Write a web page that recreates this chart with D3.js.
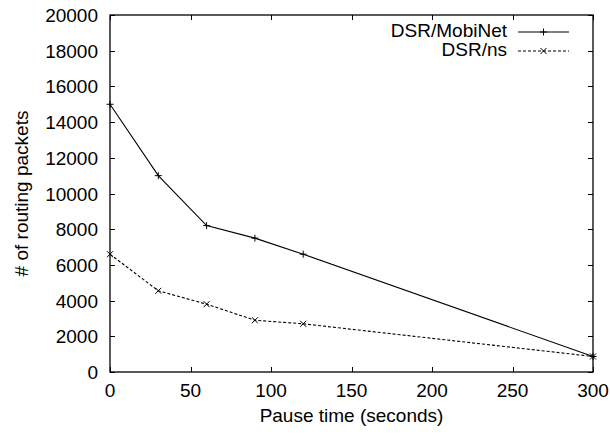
<!DOCTYPE html>
<html>
<head>
<meta charset="utf-8">
<script src="https://cdn.jsdelivr.net/npm/d3@7"></script>
<style>
  body { margin: 0; background: #fff; }
  text { font-family: "Liberation Sans", Arial, sans-serif; fill: #000; }
</style>
</head>
<body>
<div id="viz"></div>
<script>
const w = 610, h = 437;

// pause times (seconds)
const pauseTimes = [0, 30, 60, 90, 120, 300];
// routing packets
const mobinet = [15000, 11000, 8200, 7500, 6600, 870];
const ns = [6600, 4550, 3800, 2900, 2700, 870];

const seriesNames = ["DSR/MobiNet", "DSR/ns"];
const xTicks = [0, 50, 100, 150, 200, 250, 300];
const yTicks = [0, 2000, 4000, 6000, 8000, 10000, 12000, 14000, 16000, 18000, 20000];

const svg = d3.select("#viz")
  .append("svg")
  .attr("width", w)
  .attr("height", h);

const pLeft = 110, pRight = 593, pTop = 15, pBottom = 372;
const fs = 19;

const xScale = d3.scaleLinear().domain([0, 300]).range([pLeft, pRight]);
const yScale = d3.scaleLinear().domain([0, 20000]).range([pBottom, pTop]);

const tick = 5;
const ax = svg.append("g").attr("stroke", "#000").attr("stroke-width", 1);

// ticks, mirrored on all four sides (pointing inward)
xTicks.forEach(t => {
  const x = Math.round(xScale(t)) + 0.5;
  ax.append("line").attr("x1", x).attr("x2", x).attr("y1", pBottom).attr("y2", pBottom - tick);
  ax.append("line").attr("x1", x).attr("x2", x).attr("y1", pTop).attr("y2", pTop + tick);
});
yTicks.forEach(t => {
  const y = Math.round(yScale(t)) + 0.5;
  ax.append("line").attr("x1", pLeft).attr("x2", pLeft + tick).attr("y1", y).attr("y2", y);
  ax.append("line").attr("x1", pRight).attr("x2", pRight - tick).attr("y1", y).attr("y2", y);
});

// frame
svg.append("rect")
  .attr("x", pLeft).attr("y", pTop)
  .attr("width", pRight - pLeft).attr("height", pBottom - pTop)
  .attr("fill", "none").attr("stroke", "#000").attr("stroke-width", 1.3);

// tick labels
svg.selectAll(".xl").data(xTicks).enter().append("text")
  .attr("x", d => xScale(d)).attr("y", pBottom + 25)
  .attr("text-anchor", "middle").attr("font-size", fs)
  .text(d => d);
svg.selectAll(".yl").data(yTicks).enter().append("text")
  .attr("x", pLeft - 12).attr("y", d => yScale(d) + 7)
  .attr("text-anchor", "end").attr("font-size", fs)
  .text(d => d);

// axis titles
svg.append("text")
  .attr("x", xScale(150)).attr("y", 422)
  .attr("text-anchor", "middle").attr("font-size", fs)
  .text("Pause time (seconds)");
svg.append("text")
  .attr("transform", "translate(28," + yScale(10000) + ") rotate(-90)")
  .attr("text-anchor", "middle").attr("font-size", fs)
  .text("# of routing packets");

const line = d3.line().x(d => xScale(d[0])).y(d => yScale(d[1]));

const plus = (g, x, y) => {
  g.append("path").attr("d", `M${x - 3.5},${y}H${x + 3.5}M${x},${y - 3.5}V${y + 3.5}`)
    .attr("stroke", "#000").attr("stroke-width", 1);
};
const cross = (g, x, y) => {
  g.append("path").attr("d", `M${x - 3},${y - 3}L${x + 3},${y + 3}M${x - 3},${y + 3}L${x + 3},${y - 3}`)
    .attr("stroke", "#000").attr("stroke-width", 1);
};

const series = [
  { name: seriesNames[0], values: mobinet, dash: null, mark: plus },
  { name: seriesNames[1], values: ns, dash: "3,2", mark: cross }
];

series.forEach((s, i) => {
  const pts = pauseTimes.map((t, j) => [t, s.values[j]]);
  const g = svg.append("g");
  g.append("path")
    .attr("d", line(pts))
    .attr("fill", "none").attr("stroke", "#000").attr("stroke-width", 1.1)
    .attr("stroke-dasharray", s.dash);
  pts.forEach(p => s.mark(g, xScale(p[0]), yScale(p[1])));

  // legend
  const ly = 32 + i * 19;
  svg.append("text")
    .attr("x", 507).attr("y", ly + 5)
    .attr("text-anchor", "end").attr("font-size", fs)
    .text(s.name);
  g.append("line")
    .attr("x1", 518).attr("x2", 569).attr("y1", ly).attr("y2", ly)
    .attr("stroke", "#000").attr("stroke-width", 1.1)
    .attr("stroke-dasharray", s.dash);
  s.mark(g, 543.5, ly);
});
</script>
</body>
</html>
